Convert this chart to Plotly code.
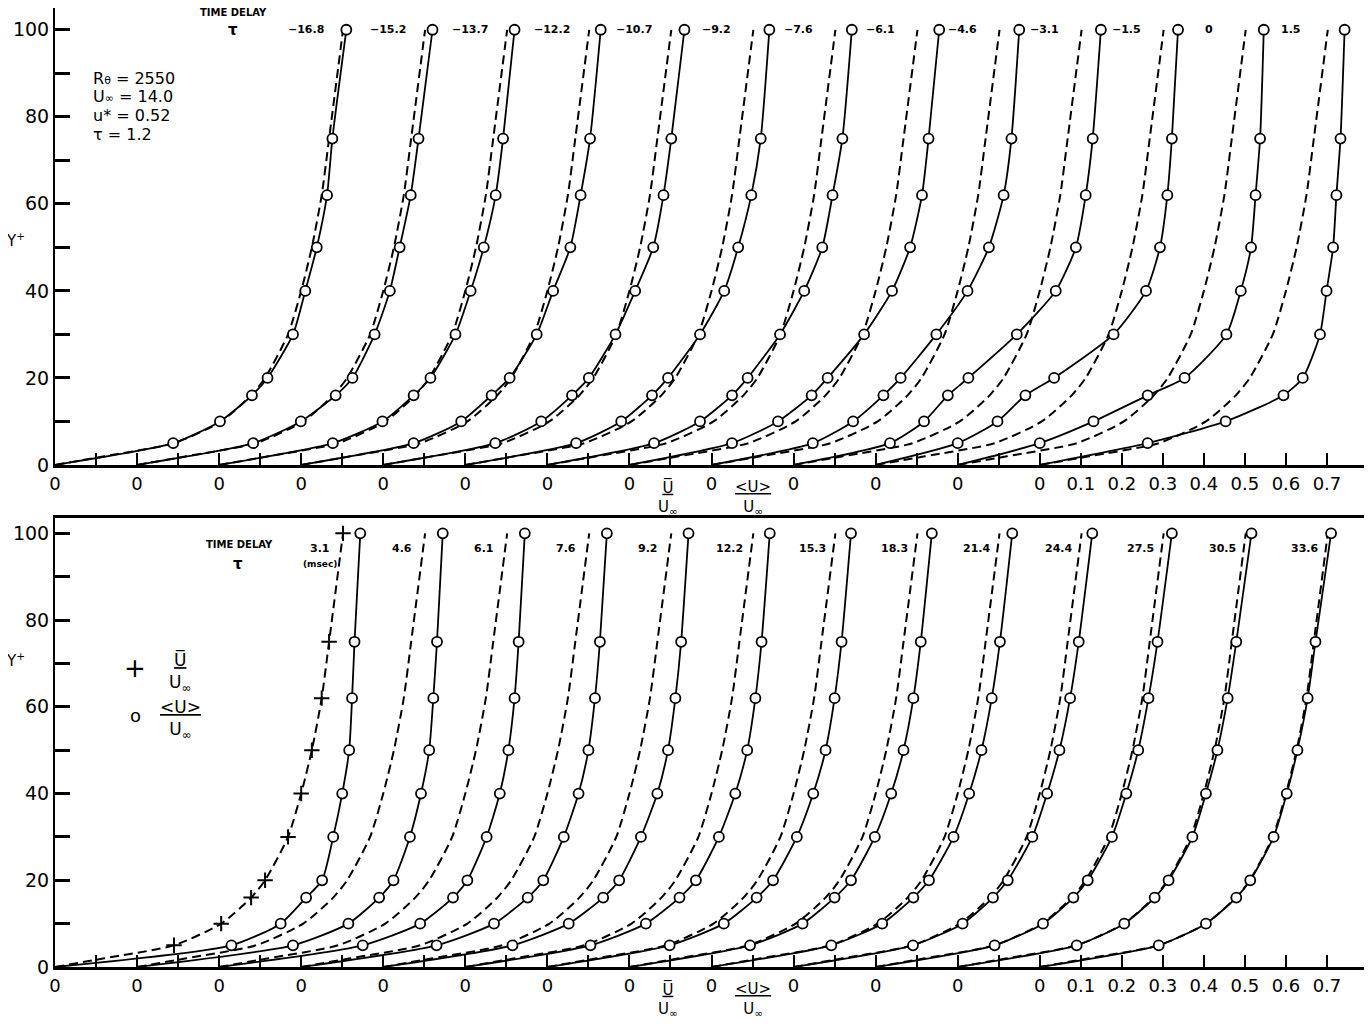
import plotly.graph_objects as go

# ---------------- data ----------------
Y_LEVELS = [0, 5, 10, 16, 20, 30, 40, 50, 62, 75, 100]          # Y+ of the <U>/Uinf points
Y_MEAN = [0, 2, 5, 10, 16, 20, 30, 40, 50, 62, 75, 100]         # Y+ of the mean profile
MEAN_PROFILE = [0, 0.12, 0.29, 0.405, 0.478, 0.512, 0.568, 0.600, 0.626, 0.650, 0.668, 0.702]  # Ubar/Uinf

TOP_DELAYS = ["\u221216.8", "\u221215.2", "\u221213.7", "\u221212.2", "\u221210.7", "\u22129.2",
              "\u22127.6", "\u22126.1", "\u22124.6", "\u22123.1", "\u22121.5", "0", "1.5"]
TOP_PROFILES = [
    [0, 0.288, 0.402, 0.480, 0.518, 0.580, 0.610, 0.638, 0.663, 0.676, 0.710],
    [0, 0.283, 0.399, 0.484, 0.525, 0.579, 0.616, 0.640, 0.667, 0.686, 0.720],
    [0, 0.277, 0.398, 0.474, 0.515, 0.576, 0.613, 0.645, 0.674, 0.692, 0.720],
    [0, 0.274, 0.390, 0.464, 0.508, 0.574, 0.614, 0.656, 0.681, 0.704, 0.730],
    [0, 0.273, 0.385, 0.460, 0.501, 0.566, 0.614, 0.658, 0.683, 0.702, 0.734],
    [0, 0.270, 0.380, 0.455, 0.494, 0.572, 0.631, 0.665, 0.697, 0.720, 0.741],
    [0, 0.260, 0.372, 0.450, 0.488, 0.567, 0.626, 0.670, 0.695, 0.719, 0.742],
    [0, 0.250, 0.362, 0.444, 0.483, 0.572, 0.640, 0.684, 0.713, 0.729, 0.755],
    [0, 0.247, 0.345, 0.419, 0.461, 0.548, 0.624, 0.676, 0.712, 0.731, 0.750],
    [0, 0.235, 0.318, 0.376, 0.426, 0.544, 0.639, 0.688, 0.712, 0.729, 0.749],
    [0, 0.200, 0.297, 0.365, 0.435, 0.580, 0.659, 0.693, 0.711, 0.722, 0.737],
    [0, 0.200, 0.331, 0.463, 0.553, 0.655, 0.690, 0.715, 0.726, 0.737, 0.746],
    [0, 0.263, 0.453, 0.594, 0.641, 0.683, 0.699, 0.715, 0.723, 0.733, 0.743],
]

BOTTOM_DELAYS = ["3.1", "4.6", "6.1", "7.6", "9.2", "12.2", "15.3", "18.3",
                 "21.4", "24.4", "27.5", "30.5", "33.6"]
BOTTOM_PROFILES = [
    [0, 0.430, 0.550, 0.612, 0.651, 0.678, 0.700, 0.717, 0.724, 0.730, 0.744],
    [0, 0.380, 0.515, 0.590, 0.625, 0.665, 0.692, 0.712, 0.722, 0.731, 0.745],
    [0, 0.350, 0.490, 0.570, 0.605, 0.652, 0.684, 0.705, 0.720, 0.730, 0.745],
    [0, 0.330, 0.470, 0.552, 0.590, 0.640, 0.676, 0.700, 0.716, 0.728, 0.745],
    [0, 0.315, 0.452, 0.536, 0.575, 0.628, 0.668, 0.694, 0.712, 0.726, 0.744],
    [0, 0.305, 0.440, 0.522, 0.562, 0.618, 0.658, 0.687, 0.707, 0.722, 0.742],
    [0, 0.298, 0.430, 0.510, 0.550, 0.608, 0.648, 0.678, 0.700, 0.717, 0.740],
    [0, 0.294, 0.422, 0.500, 0.540, 0.598, 0.638, 0.668, 0.692, 0.710, 0.737],
    [0, 0.292, 0.416, 0.492, 0.530, 0.590, 0.628, 0.658, 0.683, 0.703, 0.733],
    [0, 0.291, 0.412, 0.486, 0.522, 0.582, 0.618, 0.648, 0.674, 0.695, 0.728],
    [0, 0.290, 0.408, 0.482, 0.517, 0.576, 0.611, 0.640, 0.665, 0.687, 0.722],
    [0, 0.290, 0.406, 0.480, 0.514, 0.572, 0.605, 0.633, 0.658, 0.679, 0.716],
    [0, 0.290, 0.405, 0.479, 0.513, 0.570, 0.602, 0.628, 0.653, 0.672, 0.710],
]

PROFILE_STEP = 0.2          # horizontal shift between successive profiles
LAST_SCALE = ["0.1", "0.2", "0.3", "0.4", "0.5", "0.6", "0.7"]

# ---------------- figure ----------------
FONT = "DejaVu Sans"
fig = go.Figure()

def add_panel(profiles, xa, ya, plus_first):
    for k, prof in enumerate(profiles):
        off = k * PROFILE_STEP
        fig.add_trace(go.Scatter(
            x=[v + off for v in MEAN_PROFILE], y=Y_MEAN, mode="lines",
            line=dict(color="black", width=2, dash="9px,5px", shape="spline", smoothing=0.6),
            xaxis=xa, yaxis=ya, showlegend=False, hoverinfo="skip"))
        if plus_first and k == 0:
            fig.add_trace(go.Scatter(
                x=[v + off for v in MEAN_PROFILE[2:]], y=Y_MEAN[2:], mode="markers",
                marker=dict(symbol="cross-thin", size=11, line=dict(color="black", width=2)),
                xaxis=xa, yaxis=ya, showlegend=False, hoverinfo="skip"))
        fig.add_trace(go.Scatter(
            x=[v + off for v in prof], y=Y_LEVELS, mode="lines",
            line=dict(color="black", width=1.8, shape="spline", smoothing=0.6),
            xaxis=xa, yaxis=ya, showlegend=False, hoverinfo="skip"))
        fig.add_trace(go.Scatter(
            x=[v + off for v in prof[1:]], y=Y_LEVELS[1:], mode="markers",
            marker=dict(symbol="circle", size=10, color="white",
                        line=dict(color="black", width=1.8)),
            xaxis=xa, yaxis=ya, showlegend=False, hoverinfo="skip"))

add_panel(TOP_PROFILES, "x", "y", False)
add_panel(BOTTOM_PROFILES, "x2", "y2", True)

n = len(TOP_PROFILES)
xt_vals = [round(k * PROFILE_STEP, 3) for k in range(n)]
xt_text = ["0"] * n
for j, t in enumerate(LAST_SCALE):
    xt_vals.append(round((n - 1) * PROFILE_STEP + (j + 1) * 0.1, 3))
    xt_text.append(t)

yt_vals = [0, 20, 40, 60, 80, 100]

xcommon = dict(range=[0, 3.2], tickvals=xt_vals, ticktext=xt_text, ticks="inside",
               ticklen=12, tickwidth=2, tickcolor="black", showgrid=False, zeroline=False,
               showline=True, linecolor="black", linewidth=3, mirror=True, automargin=False,
               minor=dict(ticks="inside", ticklen=12, tickwidth=2, tickcolor="black",
                          tick0=0, dtick=0.1, showgrid=False),
               tickfont=dict(family=FONT, size=18, color="black"))
ycommon = dict(tickvals=yt_vals, ticks="inside", ticklen=15, tickwidth=2.5,
               tickcolor="black", showgrid=False, zeroline=False, showline=True,
               linecolor="black", linewidth=2, mirror=True, automargin=False,
               minor=dict(ticks="inside", ticklen=15, tickwidth=2.5, tickcolor="black",
                          tick0=0, dtick=10, showgrid=False),
               tickfont=dict(family=FONT, size=19, color="black"))

# the page body adds an 8px offset, so margins are reduced accordingly
fig.update_layout(
    width=1372, height=1030, paper_bgcolor="white", plot_bgcolor="white",
    margin=dict(l=47, r=12, t=0, b=71, autoexpand=False),
    xaxis=dict(domain=[0, 1], anchor="y", **xcommon),
    yaxis=dict(domain=[0.5235, 1], range=[0, 105], anchor="x", **ycommon),
    xaxis2=dict(domain=[0, 1], anchor="y2", **xcommon),
    yaxis2=dict(domain=[0, 0.468], range=[0, 103.5], anchor="x2", **ycommon),
)

ann = []
def txt(x, y, s, size, xa="x", ya="y", xanchor="center", yanchor="middle", bold=False, align="center"):
    ann.append(dict(x=x, y=y, xref=xa, yref=ya, text=("<b>%s</b>" % s) if bold else s,
                    showarrow=False, xanchor=xanchor, yanchor=yanchor, align=align,
                    font=dict(family=FONT, size=size, color="black")))

for k, d in enumerate(TOP_DELAYS):
    txt(k * PROFILE_STEP + 0.612, 100, d, 11, bold=True)
for k, d in enumerate(BOTTOM_DELAYS):
    txt(k * PROFILE_STEP + 0.645, 96.5, d, 11, "x2", "y2", bold=True)
txt(0.645, 93, "(msec)", 9, "x2", "y2", bold=True)

txt(0.435, 104, "TIME DELAY", 10, bold=True)
txt(0.435, 100, "\u03c4", 15, bold=True)
txt(0.45, 97.5, "TIME DELAY", 10, "x2", "y2", bold=True)
txt(0.445, 93, "\u03c4", 15, "x2", "y2", bold=True)

SMALL = '<span style="font-size:11px">%s</span>'
info = ["R" + SMALL % "\u03b8" + " = 2550", "U" + SMALL % "\u221e" + " = 14.0",
        "u* = 0.52", "\u03c4 = 1.2"]
for i, s in enumerate(info):
    txt(0.088, 88.9 - 4.3 * i, s, 16, xanchor="left")

txt(-0.03, 51.7, "Y<sup>+</sup>", 15, "paper", "y")
txt(-0.03, 70.7, "Y<sup>+</sup>", 15, "paper", "y2")

for xa, ya in (("x", "y domain"), ("x2", "y2 domain")):
    txt(1.495, -0.025, "<u>U\u0305</u><br>U<sub>\u221e</sub>", 15, xa, ya, yanchor="top")
    txt(1.70, -0.025, "<u>&lt;U&gt;</u><br>U<sub>\u221e</sub>", 15, xa, ya, yanchor="top")

txt(0.195, 69, "+", 26, "x2", "y2")
txt(0.305, 68, "<u>U\u0305</u><br>U<sub>\u221e</sub>", 17, "x2", "y2")
txt(0.195, 58, "o", 18, "x2", "y2")
txt(0.305, 57, "<u>&lt;U&gt;</u><br>U<sub>\u221e</sub>", 17, "x2", "y2")

fig.update_layout(annotations=ann)
fig.write_html("out.html")
